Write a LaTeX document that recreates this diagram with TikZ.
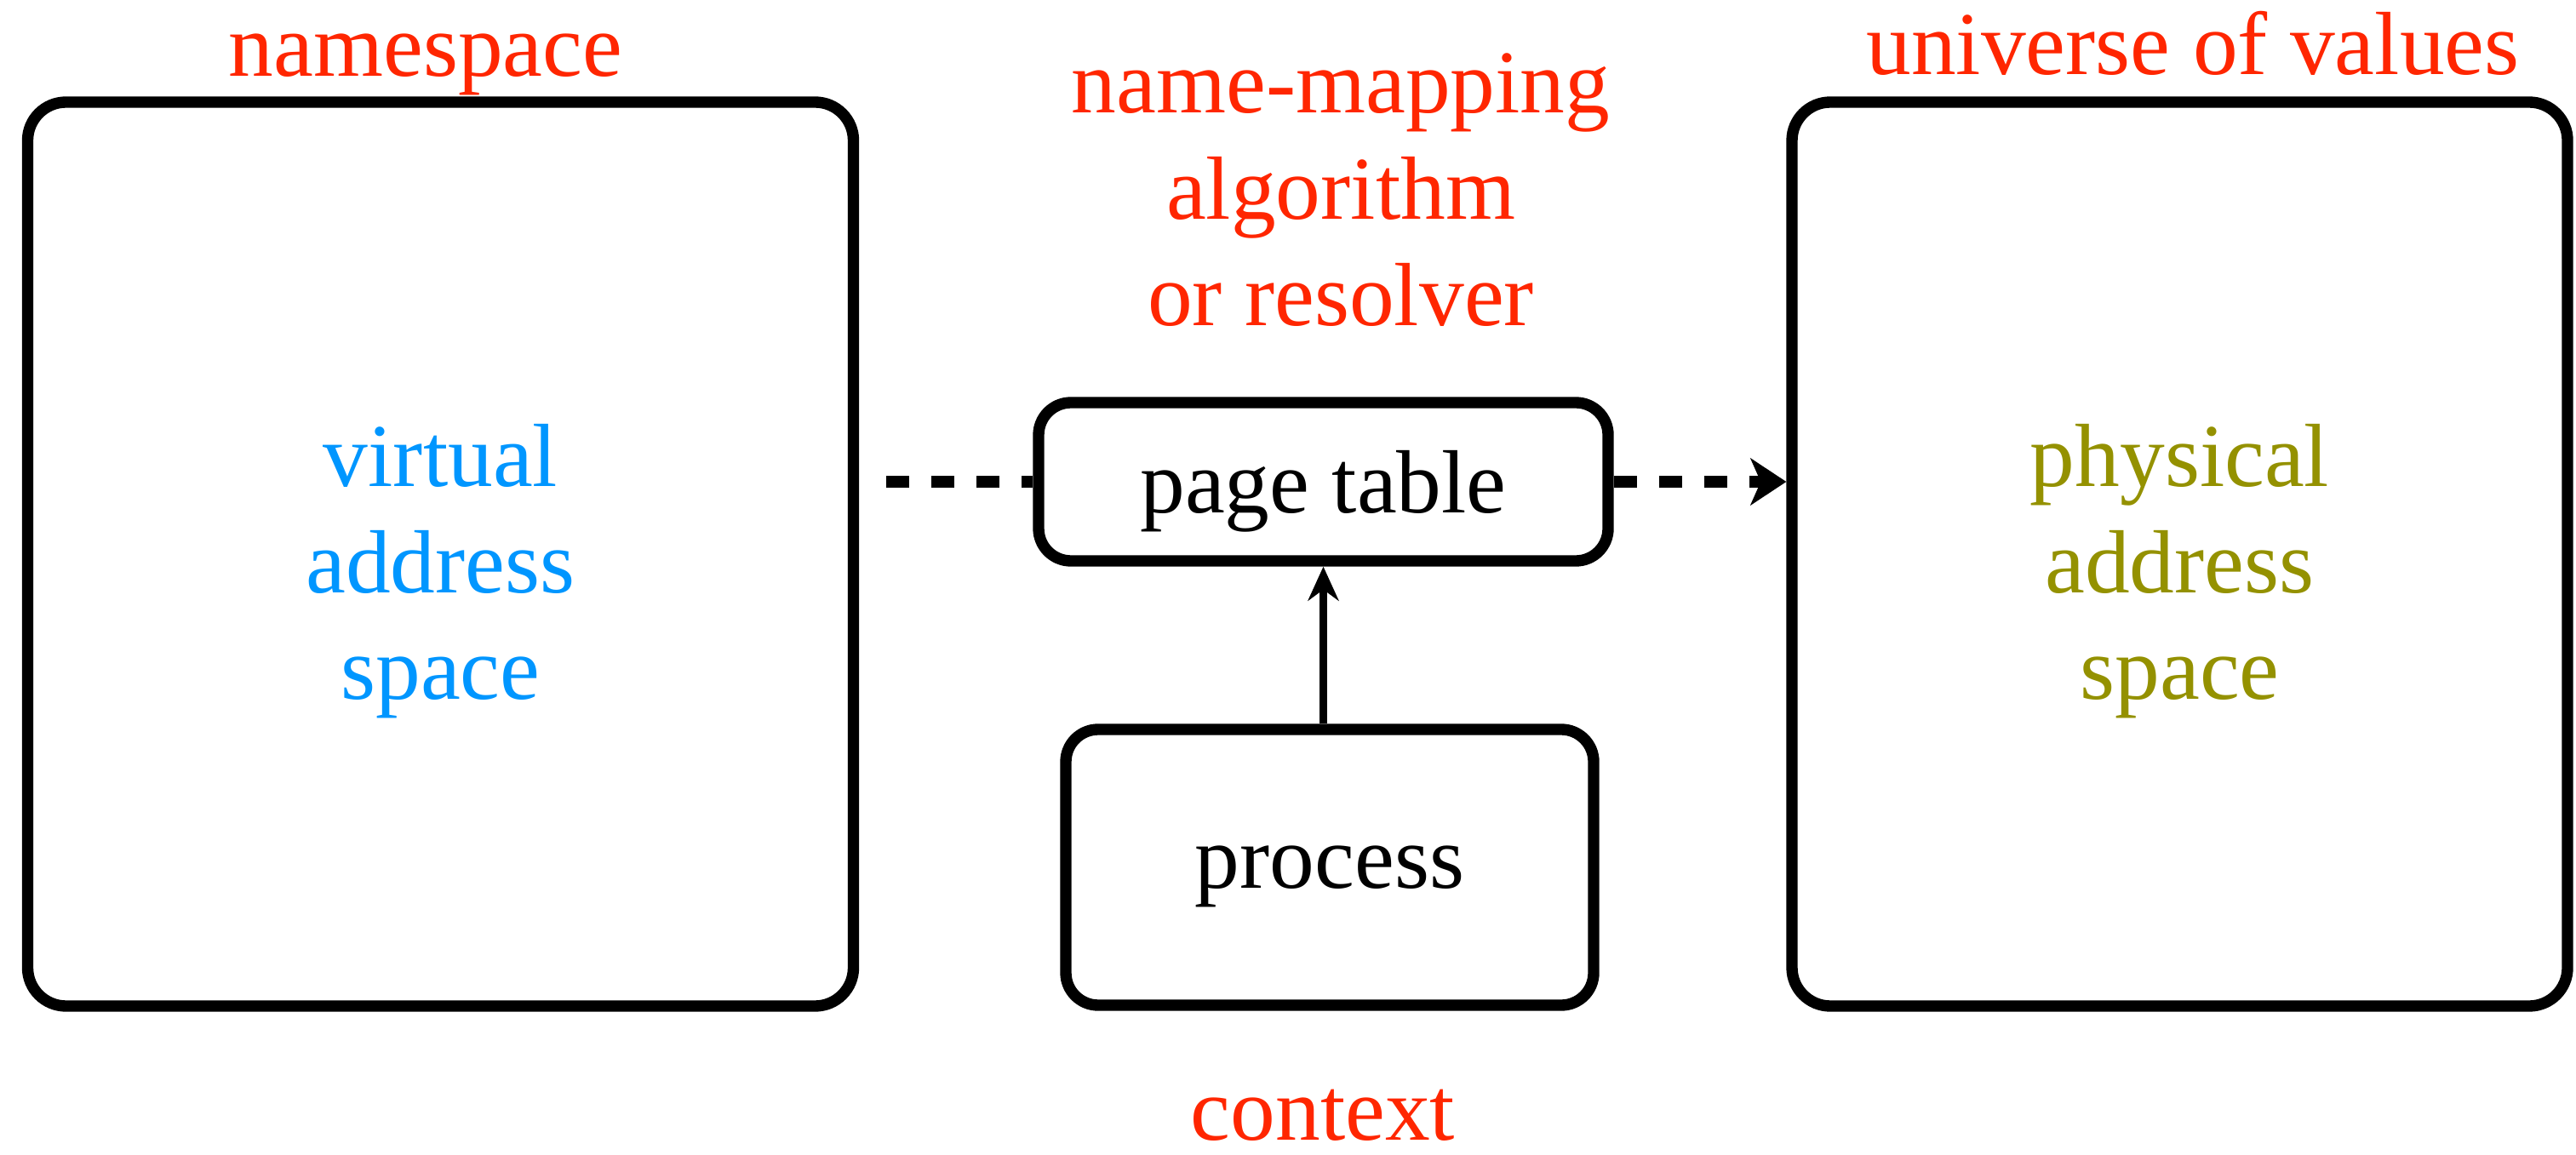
\documentclass[tikz,border=0pt]{standalone}
\usepackage{fontspec}
\setmainfont{Liberation Serif}
\usetikzlibrary{positioning,arrows.meta}

\definecolor{namered}{RGB}{255,38,0}
\definecolor{virtblue}{RGB}{0,150,255}
\definecolor{physolive}{RGB}{148,145,0}

\tikzset{
  bigbox/.style={draw, line width=3.8pt, rounded corners=0.45cm, minimum width=9.7cm, minimum height=10.62cm},
  smallbox/.style={draw, line width=3.8pt, rounded corners=0.38cm, text depth=0pt},
  spacetext/.style={align=center},
  tag/.style={text=namered, align=center},
  mapline/.style={line width=4.2pt, dash pattern=on 0.27cm off 0.26cm},
}

\begin{document}
\begin{tikzpicture}[font=\fontsize{30}{35.5}\selectfont]
\useasboundingbox (0,0) rectangle (30.26,13.56);

\node[bigbox] (vas) at (5.175,7.05) {};
\node[bigbox, minimum width=9.11cm] (pas) at (25.605,7.05) {};
\node[spacetext, text=virtblue] (vastext) at ([yshift=-0.2cm]vas.center) {virtual\\address\\space};
\node[spacetext, text=physolive] (pastext) at ([yshift=-0.2cm]pas.center) {physical\\address\\space};
\node[smallbox, minimum width=6.69cm, minimum height=1.86cm] (pt) at (15.545,7.90) {page table};
\node[smallbox, minimum width=6.2cm, minimum height=3.24cm] (proc) at (15.62,3.37) {process};

\node[tag, anchor=base] (ns) at (5.0,12.66) {namespace};
\node[tag, anchor=base] (uv) at (25.76,12.68) {universe of values};
\node[tag] (res) at (15.75,11.33) {name-mapping\\algorithm\\or resolver};
\node[tag, anchor=base] (ctx) at (15.54,0.17) {context};

\coordinate (tail) at (10.41,7.90);
\draw[mapline] (tail) -- (pt.west);
\draw[mapline, -{Stealth[length=0.42cm, width=0.55cm, inset=0.12cm]}] (pt.east) -- (pt.east -| pas.west);
\draw[line width=2.8pt, -{Stealth[length=0.4cm, width=0.36cm]}] (pt.south |- proc.north) -- (pt.south);
\end{tikzpicture}
\end{document}
